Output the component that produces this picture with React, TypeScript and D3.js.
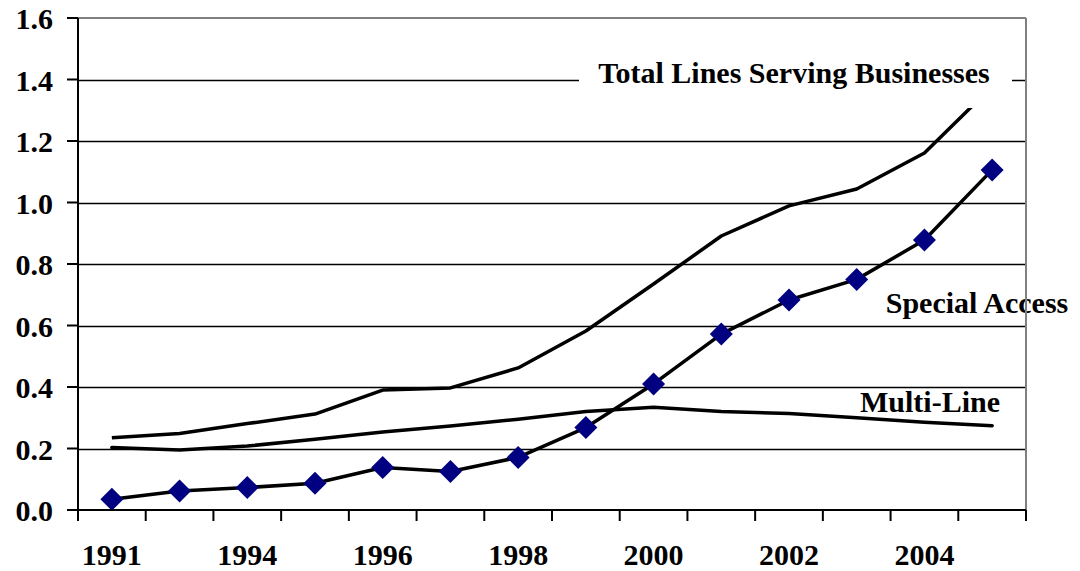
import React from "react";
import * as d3 from "d3";

const categories = ["1991", "1993", "1994", "1995", "1996", "1997", "1998", "1999", "2000", "2001", "2002", "2003", "2004", "2005"];
const tickLabels = ["1991", "", "1994", "", "1996", "", "1998", "", "2000", "", "2002", "", "2004", ""];
const totalLines = [0.235, 0.249, 0.281, 0.312, 0.39, 0.397, 0.462, 0.582, 0.735, 0.891, 0.989, 1.044, 1.161, 1.377];
const multiLine = [0.203, 0.195, 0.208, 0.23, 0.254, 0.273, 0.295, 0.32, 0.334, 0.32, 0.314, 0.3, 0.285, 0.274];
const specialAccess = [0.035, 0.062, 0.073, 0.087, 0.138, 0.125, 0.171, 0.268, 0.41, 0.572, 0.683, 0.75, 0.878, 1.106];
const yTicks = [0, 0.2, 0.4, 0.6, 0.8, 1.0, 1.2, 1.4, 1.6];

const W = 1080, H = 571;
const L = 78, R = 1026, T = 18, B = 510;
const FONT = "Liberation Serif";
const FS = 30;

export default function App() {
  const x = d3.scaleBand<string>().domain(categories).range([L, R]).padding(0);
  const y = d3.scaleLinear().domain([0, 1.6]).range([B, T]);
  const cx = (i: number) => (x(categories[i]) as number) + x.bandwidth() / 2;
  const line = d3.line<number>().x((_, i) => cx(i)).y((d) => y(d));
  const boundaries = d3.range(categories.length + 1).map((k) => L + k * x.bandwidth());

  return (
    <div style={{ position: "absolute", left: 0, top: 0 }}>
      <svg width={W} height={H} style={{ display: "block", background: "#fff" }}>
        {yTicks.slice(1, -1).map((t) => (
          <line key={t} x1={L} x2={R} y1={Math.round(y(t)) + 0.5} y2={Math.round(y(t)) + 0.5} stroke="#000" strokeWidth={1.3} />
        ))}
        <path d={line(totalLines) || ""} fill="none" stroke="#000" strokeWidth={3.5} strokeLinejoin="round" />
        <path d={line(multiLine) || ""} fill="none" stroke="#000" strokeWidth={3.5} strokeLinejoin="round" strokeLinecap="round" />
        <path d={line(specialAccess) || ""} fill="none" stroke="#000" strokeWidth={3.5} strokeLinejoin="round" />
        {specialAccess.map((v, i) => {
          const px = cx(i), py = y(v), s = 11.5;
          return (
            <path key={i} d={`M${px},${py - s}L${px + s},${py}L${px},${py + s}L${px - s},${py}Z`} fill="#000080" />
          );
        })}
        <rect x={579} y={50} width={433} height={58} fill="#fff" />
        <text x={794} y={83} textAnchor="middle" fontFamily={FONT} fontWeight="bold" fontSize={FS}>Total Lines Serving Businesses</text>
        <text x={977} y={313} textAnchor="middle" fontFamily={FONT} fontWeight="bold" fontSize={FS}>Special Access</text>
        <text x={930} y={412} textAnchor="middle" fontFamily={FONT} fontWeight="bold" fontSize={FS}>Multi-Line</text>
        <line x1={L} x2={R} y1={T} y2={T} stroke="#808080" strokeWidth={2} />
        <line x1={R} x2={R} y1={T} y2={B} stroke="#808080" strokeWidth={2} />
        <line x1={L} x2={L} y1={T} y2={B} stroke="#000" strokeWidth={2} />
        <line x1={L - 11} x2={R} y1={B} y2={B} stroke="#000" strokeWidth={2} />
        {yTicks.map((t) => (
          <g key={t}>
            <line x1={L - 11} x2={L} y1={y(t)} y2={y(t)} stroke="#000" strokeWidth={2} />
            <text x={53} y={y(t) + 11} textAnchor="end" fontFamily={FONT} fontWeight="bold" fontSize={FS}>{t.toFixed(1)}</text>
          </g>
        ))}
        {boundaries.map((bx, k) => (
          <line key={k} x1={bx} x2={bx} y1={B} y2={B + 11} stroke="#000" strokeWidth={2} />
        ))}
        {tickLabels.map((lab, i) => lab ? (
          <text key={i} x={cx(i)} y={565} textAnchor="middle" fontFamily={FONT} fontWeight="bold" fontSize={FS}>{lab}</text>
        ) : null)}
      </svg>
    </div>
  );
}
